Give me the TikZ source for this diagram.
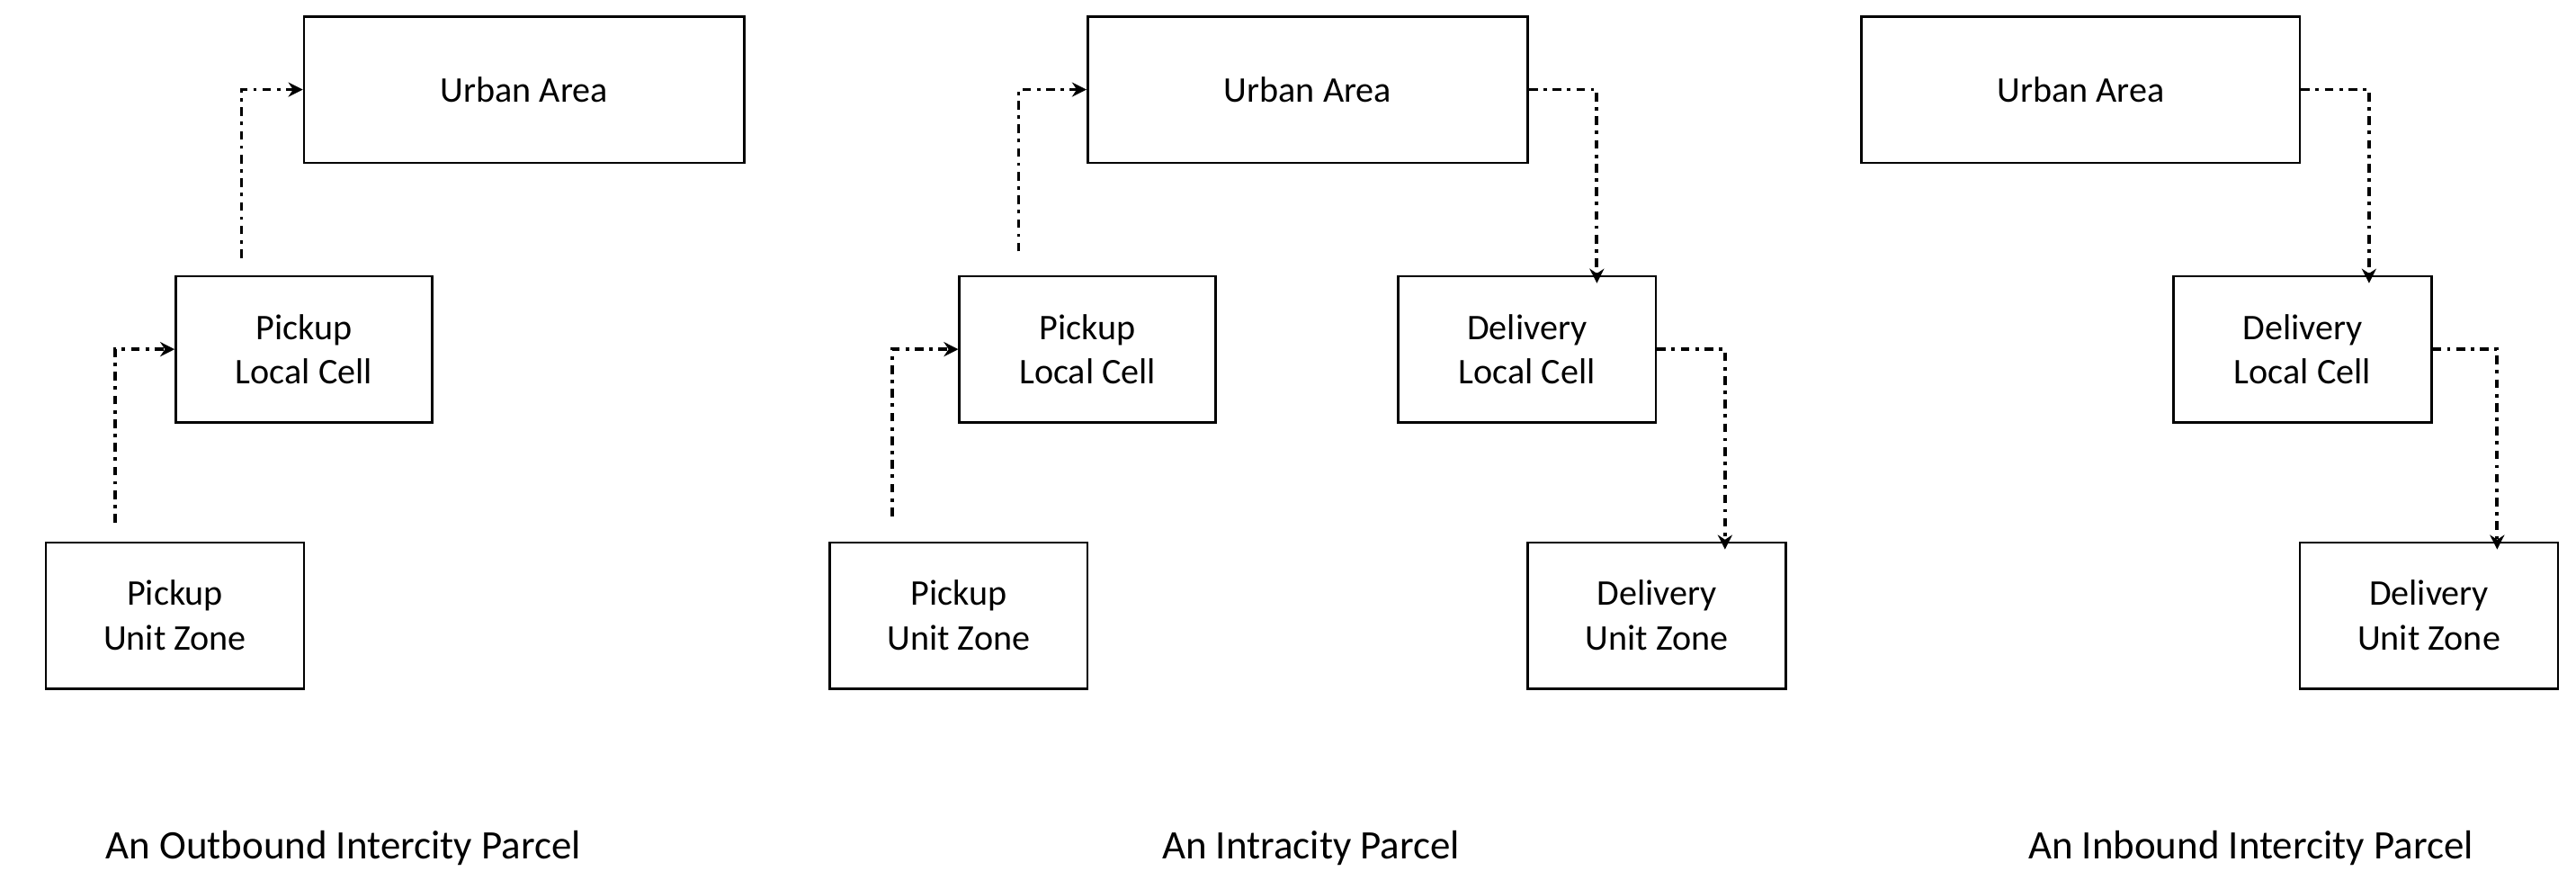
\documentclass[tikz,border=0pt]{standalone}
\usepackage{fontspec}
\setmainfont{Carlito}
\usetikzlibrary{arrows.meta}
\tikzset{
  box/.style={draw,thick,align=center,inner sep=0pt,font=\fontsize{12.5}{15.5}\selectfont},
  flow/.style={very thick,dash dot,-{Stealth[length=5pt,width=5pt]}},
  caption/.style={font=\fontsize{14}{16}\selectfont}
}
\begin{document}
\begin{tikzpicture}[x=0.02cm,y=-0.02cm]
\useasboundingbox (0,0) rectangle (1568,535);
% outbound
\node[box,minimum width=5.36cm,minimum height=1.78cm] (UA1) at (319,54.5) {Urban Area};
\node[box,minimum width=3.12cm,minimum height=1.78cm] (PL1) at (185,212.5) {Pickup\\Local Cell};
\node[box,minimum width=3.14cm,minimum height=1.78cm] (PU1) at (106.5,374.5) {Pickup\\Unit Zone};
\coordinate (s1) at (70,318);
\coordinate (s2) at (147,157);
\draw[flow] (s1) |- (PL1.west);
\draw[flow] (s2) |- (UA1.west);
\node[caption] (C1) at (209,516) {An Outbound Intercity Parcel};
% intracity
\node[box,minimum width=5.36cm,minimum height=1.78cm] (UA2) at (796,54.5) {Urban Area};
\node[box,minimum width=3.12cm,minimum height=1.78cm] (PL2) at (662,212.5) {Pickup\\Local Cell};
\node[box,minimum width=3.14cm,minimum height=1.78cm] (PU2) at (583.5,374.5) {Pickup\\Unit Zone};
\node[box,minimum width=3.14cm,minimum height=1.78cm] (DL2) at (929.5,212.5) {Delivery\\Local Cell};
\node[box,minimum width=3.14cm,minimum height=1.78cm] (DU2) at (1008.5,374.5) {Delivery\\Unit Zone};
\coordinate (s3) at (543,314);
\coordinate (s4) at (620,153);
\draw[flow] (s3) |- (PL2.west);
\draw[flow] (s4) |- (UA2.west);
\draw[flow] (UA2.east) -| ([yshift=-0.1cm]DL2.north -| 972,0);
\draw[flow] (DL2.east) -| ([yshift=-0.1cm]DU2.north -| 1050,0);
\node[caption] (C2) at (798,516) {An Intracity Parcel};
% inbound
\node[box,minimum width=5.34cm,minimum height=1.78cm] (UA3) at (1266.5,54.5) {Urban Area};
\node[box,minimum width=3.14cm,minimum height=1.78cm] (DL3) at (1401.5,212.5) {Delivery\\Local Cell};
\node[box,minimum width=3.14cm,minimum height=1.78cm] (DU3) at (1478.5,374.5) {Delivery\\Unit Zone};
\draw[flow] (UA3.east) -| ([yshift=-0.1cm]DL3.north -| 1442,0);
\draw[flow] (DL3.east) -| ([yshift=-0.1cm]DU3.north -| 1520,0);
\node[caption] (C3) at (1370,516) {An Inbound Intercity Parcel};
\end{tikzpicture}
\end{document}
